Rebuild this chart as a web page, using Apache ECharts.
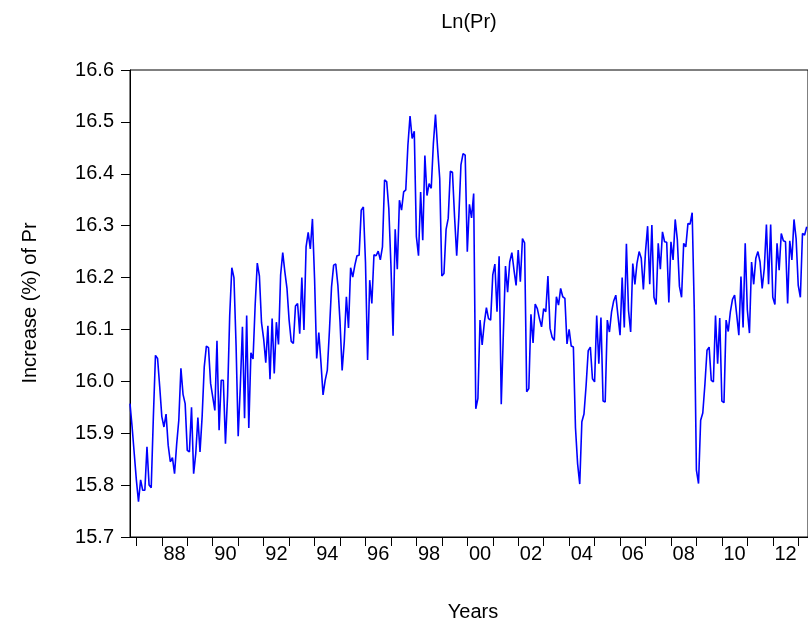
<!DOCTYPE html>
<html><head><meta charset="utf-8">
<script src="https://cdn.jsdelivr.net/npm/echarts@6/dist/echarts.min.js"></script>
<style>html,body{margin:0;padding:0;background:#fff}#c{width:808px;height:627px}</style>
</head><body><div id="c"></div><script>
// monthly series, first observation = October 1986 (month index -3 counted from Jan 1987)
const firstMonthIndex = -3;
const lnPr = [
15.957,15.912,15.861,15.81,15.768,15.81,15.79,15.79,15.874,15.80,15.795,15.93,
16.05,16.044,15.99,15.932,15.912,15.937,15.877,15.845,15.853,15.822,15.879,15.925,
16.025,15.975,15.957,15.867,15.864,15.95,15.822,15.861,15.93,15.864,15.932,16.028,
16.068,16.065,15.996,15.97,15.944,16.078,15.906,16.002,16.002,15.88,15.973,16.127,
16.219,16.2,16.07,15.894,15.99,16.105,15.929,16.127,15.91,16.055,16.043,16.147,
16.228,16.203,16.113,16.082,16.036,16.107,16.004,16.121,16.015,16.114,16.071,16.205,
16.248,16.211,16.179,16.118,16.077,16.073,16.145,16.15,16.092,16.2,16.099,16.259,
16.287,16.255,16.313,16.198,16.044,16.094,16.037,15.974,16.002,16.021,16.097,16.182,
16.224,16.226,16.185,16.115,16.021,16.076,16.163,16.103,16.219,16.201,16.224,16.242,
16.243,16.33,16.336,16.23,16.041,16.195,16.15,16.244,16.242,16.251,16.234,16.259,
16.388,16.385,16.333,16.224,16.088,16.293,16.216,16.349,16.33,16.365,16.369,16.455,
16.511,16.468,16.482,16.279,16.242,16.365,16.272,16.435,16.358,16.381,16.372,16.458,
16.514,16.449,16.391,16.203,16.208,16.293,16.314,16.405,16.403,16.317,16.242,16.317,
16.417,16.439,16.436,16.25,16.341,16.315,16.362,15.947,15.967,16.118,16.07,16.112,
16.142,16.121,16.118,16.205,16.226,16.134,16.241,15.956,16.093,16.222,16.172,16.23,
16.248,16.215,16.185,16.253,16.192,16.275,16.267,15.98,15.986,16.129,16.074,16.149,
16.14,16.121,16.105,16.14,16.134,16.203,16.102,16.085,16.079,16.163,16.147,16.179,
16.163,16.16,16.072,16.1,16.068,16.066,15.91,15.841,15.802,15.922,15.937,15.992,
16.059,16.066,16.005,15.999,16.127,16.034,16.123,15.962,15.96,16.118,16.095,16.134,
16.155,16.166,16.127,16.089,16.2,16.104,16.265,16.136,16.095,16.227,16.187,16.228,
16.25,16.237,16.177,16.25,16.299,16.187,16.301,16.162,16.148,16.266,16.216,16.288,
16.269,16.268,16.152,16.269,16.234,16.312,16.273,16.183,16.162,16.266,16.259,16.304,
16.303,16.325,16.137,15.829,15.803,15.925,15.939,15.994,16.06,16.066,16.002,15.999,
16.127,16.034,16.122,15.962,15.959,16.118,16.096,16.134,16.158,16.166,16.128,16.089,
16.202,16.104,16.266,16.138,16.093,16.23,16.187,16.237,16.25,16.23,16.179,16.218,
16.302,16.187,16.302,16.162,16.148,16.266,16.214,16.285,16.271,16.269,16.15,16.271,
16.234,16.312,16.275,16.185,16.162,16.285,16.282,16.298
];
const tickYears = [1987,1988,1989,1990,1991,1992,1993,1994,1995,1996,1997,1998,1999,2000,
  2001,2002,2003,2004,2005,2006,2007,2008,2009,2010,2011,2012,2013];
const labelYears = [1988,1990,1992,1994,1996,1998,2000,2002,2004,2006,2008,2010,2012];
const yearLabels = ['88','90','92','94','96','98','00','02','04','06','08','10','12'];

const baseYear = 1987;
const seriesData = lnPr.map((v, i) => [firstMonthIndex + i, v]);
const tickMonths = tickYears.map(y => (y - baseYear) * 12);
const labelMonths = labelYears.map(y => (y - baseYear) * 12 + 6);
const labelMap = {};
labelMonths.forEach((m, i) => { labelMap[m] = yearLabels[i]; });

const FONT = 'Liberation Sans, Arial, sans-serif';
const chart = echarts.init(document.getElementById('c'), null, {renderer: 'canvas'});
chart.setOption({
  animation: false,
  backgroundColor: '#fff',
  grid: {left: 130, right: -2, top: 70, bottom: 90, show: true, borderColor: '#000', borderWidth: 1, backgroundColor: 'transparent'},
  xAxis: {
    type: 'value', min: firstMonthIndex, max: 316.6,
    axisLine: {show: true, onZero: false, lineStyle: {color: '#000', width: 1}},
    axisTick: {show: true, customValues: tickMonths, length: 9, lineStyle: {color: '#000'}},
    axisLabel: {show: true, customValues: labelMonths, margin: 7, fontSize: 20, color: '#000', fontFamily: FONT,
      formatter: v => labelMap[Math.round(v)] || ''},
    splitLine: {show: false}
  },
  yAxis: {
    type: 'value', min: 15.7, max: 16.6, interval: 0.1,
    axisLine: {show: true, onZero: false, lineStyle: {color: '#000', width: 1}},
    axisTick: {show: true, length: 9, lineStyle: {color: '#000'}},
    axisLabel: {margin: 16, fontSize: 20, color: '#000', fontFamily: FONT, formatter: v => v.toFixed(1)},
    splitLine: {show: false}
  },
  graphic: [
    {type: 'text', x: 469, y: 22, style: {text: 'Ln(Pr)', fontSize: 20, fontFamily: FONT, fill: '#000', textAlign: 'center', textVerticalAlign: 'middle'}},
    {type: 'text', x: 473, y: 612, style: {text: 'Years', fontSize: 20, fontFamily: FONT, fill: '#000', textAlign: 'center', textVerticalAlign: 'middle'}},
    {type: 'text', x: 30, y: 303, rotation: Math.PI / 2, style: {text: 'Increase (%) of Pr', fontSize: 20, fontFamily: FONT, fill: '#000', textAlign: 'center', textVerticalAlign: 'middle'}}
  ],
  series: [{
    type: 'line', data: seriesData, showSymbol: false, symbol: 'none', clip: true,
    lineStyle: {color: '#0000ff', width: 1.6}
  }]
});
</script></body></html>
